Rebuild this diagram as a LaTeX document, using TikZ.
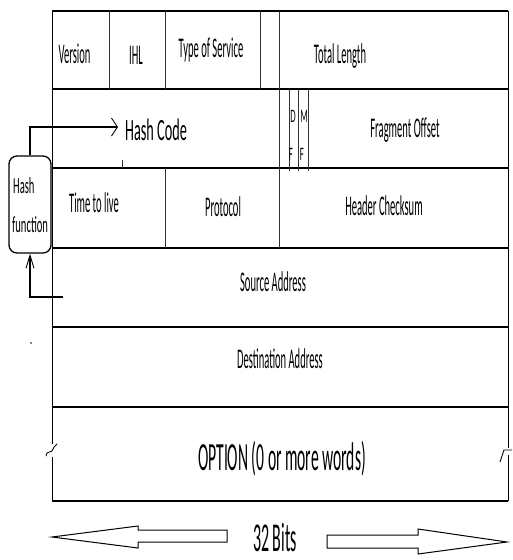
\documentclass[tikz,border=0pt]{standalone}
\usepackage{fontspec}
\setmainfont{Carlito}
\newfontfamily\fA{Carlito}[FakeStretch=0.37]
\newfontfamily\fB{Carlito}[FakeStretch=0.46]
\newfontfamily\fC{Carlito}[FakeStretch=0.39]
\usetikzlibrary{arrows.meta}
\begin{document}
\begin{tikzpicture}[x=1pt,y=-1pt,
  lab/.style={inner sep=0pt, anchor=base, font={\fA\fontsize{28.5}{30}\selectfont}},
  mid/.style={inner sep=0pt, anchor=base, font={\fB\fontsize{31}{33}\selectfont}},
  tiny/.style={inner sep=0pt, anchor=base, font={\fB\fontsize{19}{20}\selectfont}},
  hfl/.style={inner sep=0pt, anchor=base west, font={\fB\fontsize{23}{25}\selectfont}},
  big/.style={inner sep=0pt, anchor=base, font={\fC\fontsize{40}{42}\selectfont}},
  rowline/.style={line width=1.6pt},
  colline/.style={line width=0.8pt, black!80},
  border/.style={line width=0.9pt},
  conn/.style={line width=1.3pt},
  hollow/.style={line width=1pt, fill=white}]
\useasboundingbox (0,0) rectangle (512,560);
% table horizontal lines
\draw[rowline] (52,11) -- (508,11);
\foreach \yy in {89,168,248,327,407} \draw[rowline] (52,\yy) -- (508,\yy);
\draw[rowline] (52,501) -- (508,501);
% borders with breaks
\draw[border] (52,11) -- (52,444);
\draw[border] (52,457) -- (52,501);
\draw[border, line cap=round] (46,456) -- (47,453) -- (52,451) -- (54,447) -- (57,444);
\draw[border] (508,11) -- (508,448);
\draw[border] (508,455) -- (508,501);
\draw[border] (500,462) -- (504,450) -- (512,450);
% row 1 columns
\foreach \xx in {109,165,260,279} \draw[colline] (\xx,11) -- (\xx,89);
% row 2 columns
\draw[colline] (279,89) -- (279,168);
\foreach \xx in {289,298,308} \draw[colline] (\xx,89) -- (\xx,171);
\draw[colline] (122,160) -- (122,168);
% row 3 columns
\foreach \xx in {165,279} \draw[colline] (\xx,168) -- (\xx,248);
% row 1 texts
\node[lab] (ver) at (74.5,63) {Version};
\node[lab] (ihl) at (136,64) {IHL};
\node[lab] (tos) at (211,57) {Type of Service};
\node[lab] (tl) at (340,63) {Total Length};
% row 2 texts
\node[mid, anchor=base west] (hc) at (125,140) {Hash Code};
\node[tiny] (d) at (293,122) {D};
\node[tiny] (f1) at (291,160) {F};
\node[tiny] (m) at (304,122) {M};
\node[tiny] (f2) at (302,160) {F};
\node[lab] (fo) at (405,137) {Fragment Offset};
% row 3 texts
\node[lab] (ttl) at (94,212) {Time to live};
\node[lab] (pro) at (223,216) {Protocol};
\node[lab] (hcs) at (384,215) {Header Checksum};
% row 4-6
\node[lab] (sa) at (273,291) {Source Address};
\node[lab] (da) at (280,368) {Destination Address};
\node[big] (opt) at (282,470) {OPTION (0 or more words)};
% hash function box
\node[draw, line width=1.3pt, rounded corners=8pt, fill=white, minimum width=42pt, minimum height=97pt, inner sep=0pt] (hf) at (30,204.5) {};
\node[hfl] (hft1) at (13,193) {Hash};
\node[hfl] (hft2) at (12,232) {function};
% connectors
\coordinate (hcin) at (118,127);
\coordinate (src) at (63,297);
\draw[conn, -{Straight Barb[length=6pt,width=18pt,line width=0.9pt]}] (hf.north) |- (hcin);
\draw[conn, -{Straight Barb[length=13pt,width=8pt,line width=0.9pt]}] (src) -| (hf.south);
% stray dot
\fill (31,343) circle (0.9pt);
% 32 bits
\node[big, font={\fC\fontsize{41}{43}\selectfont}, text depth=0pt] (bits) at (275,551) {32 Bits};
\draw[hollow] (52,537) -- (138,526) -- (138,530) -- (227,530) -- (227,542) -- (138,542) -- (138,548) -- cycle;
\draw[hollow] (507,542) -- (418,529) -- (418,535) -- (327,535) -- (327,548) -- (418,548) -- (418,554) -- cycle;
\end{tikzpicture}
\end{document}
